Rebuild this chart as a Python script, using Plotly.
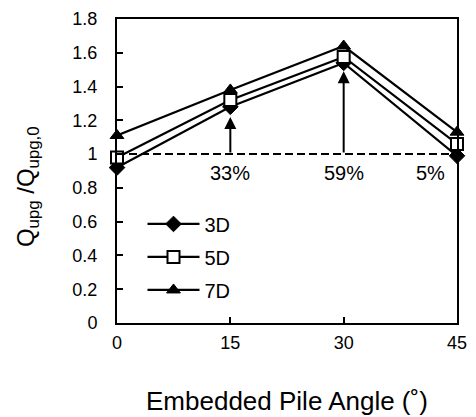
import plotly.graph_objects as go

angles = [0, 15, 30, 45]
series_names = ["3D", "5D", "7D"]
q_3d = [0.92, 1.28, 1.54, 0.99]
q_5d = [0.98, 1.32, 1.575, 1.06]
q_7d = [1.11, 1.38, 1.64, 1.13]
arrow_x = [15, 30]
arrow_top = [1.22, 1.49]
pct_x = [15, 30, 41.5]
pct_labels = ["33%", "59%", "5%"]
pct_y = 0.89
y_ticks = [0, 0.2, 0.4, 0.6, 0.8, 1, 1.2, 1.4, 1.6, 1.8]
x_ticks = [0, 15, 30, 45]

FONT = "Arial, Liberation Sans, sans-serif"

fig = go.Figure()
markers = [
    dict(symbol="diamond", size=12, color="black", line=dict(color="black", width=1)),
    dict(symbol="square", size=12, color="white", line=dict(color="black", width=2)),
    dict(symbol="triangle-up", size=12, color="black", line=dict(color="black", width=1)),
]
for name, vals, m in zip(series_names, [q_3d, q_5d, q_7d], markers):
    fig.add_trace(go.Scatter(
        x=angles, y=vals, name=name, mode="lines+markers",
        line=dict(color="black", width=2.2),
        marker=m, cliponaxis=False, legendgroup=name,
    ))

fig.add_shape(type="line", x0=angles[0], x1=angles[-1], y0=1, y1=1, xref="x", yref="y",
              line=dict(color="black", width=2, dash="8px,4px"), layer="below")

for ax_, top in zip(arrow_x, arrow_top):
    fig.add_annotation(x=ax_, y=top, ax=ax_, ay=1, xref="x", yref="y", axref="x", ayref="y",
                       showarrow=True, arrowhead=2, arrowsize=1.2, arrowwidth=2,
                       arrowcolor="black", text="")

for px, lab in zip(pct_x, pct_labels):
    fig.add_annotation(x=px, y=pct_y, xref="x", yref="y", text=lab, showarrow=False,
                       font=dict(family=FONT, size=20, color="black"))

fig.add_annotation(x=-0.265, y=0.45, xref="paper", yref="paper", xanchor="center", yanchor="middle",
                   text="Q<sub>upg</sub> /Q<sub>upg,0</sub>", textangle=-90, showarrow=False,
                   font=dict(family=FONT, size=24, color="black"))
fig.add_annotation(x=0.5, y=-0.255, xref="paper", yref="paper", xanchor="center", yanchor="middle",
                   text="Embedded Pile Angle (˚)", showarrow=False,
                   font=dict(family=FONT, size=26, color="black"))

fig.update_layout(
    width=476, height=417,
    margin=dict(l=117, r=19, t=19, b=94, autoexpand=False),
    paper_bgcolor="white", plot_bgcolor="white",
    font=dict(family=FONT, size=18, color="black"),
    showlegend=True,
    legend=dict(x=0.075, y=0.39, xanchor="left", yanchor="top",
                bgcolor="rgba(0,0,0,0)", font=dict(size=20),
                tracegroupgap=4, itemwidth=52),
    xaxis=dict(range=[0, 45], tickvals=x_ticks, ticks="inside", ticklen=6, tickwidth=1.5,
               tickcolor="black", showline=True, linecolor="black", linewidth=2, mirror=True,
               showgrid=False, zeroline=False, ticklabelstandoff=2, automargin=False),
    yaxis=dict(range=[0, 1.8], tickvals=y_ticks, ticks="inside", ticklen=6, tickwidth=1.5,
               tickcolor="black", showline=True, linecolor="black", linewidth=2, mirror=True,
               showgrid=False, zeroline=False, ticklabelstandoff=14, automargin=False),
)

fig.write_html("out.html")
